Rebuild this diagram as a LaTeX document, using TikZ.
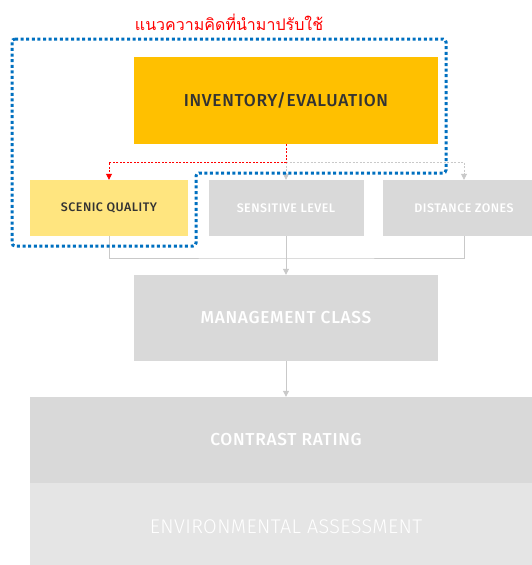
\documentclass[tikz,border=0pt]{standalone}
\usepackage{fontspec}
\setmainfont{Fira Sans}
\newfontfamily\thaifont[Script=Thai]{Loma}
\newfontfamily\boxfont[LetterSpace=4]{Fira Sans Medium}
\newfontfamily\lightfont[LetterSpace=2]{Fira Sans Light}
\usetikzlibrary{arrows.meta}
\definecolor{invcol}{HTML}{FFC000}
\definecolor{scencol}{HTML}{FFE57F}
\definecolor{graybox}{HTML}{D9D9D9}
\definecolor{lightbox}{HTML}{E5E5E5}
\definecolor{darktext}{HTML}{333333}
\definecolor{conncol}{HTML}{C9C9C9}
\definecolor{bluedot}{HTML}{0070C0}
\definecolor{titlered}{HTML}{FF0000}
\begin{document}
\begin{tikzpicture}[x=1pt,y=-1pt,
  box/.style={inner sep=0pt, font=\boxfont\fontsize{12.4}{14}\selectfont},
  bigtext/.style={font=\boxfont\fontsize{17.3}{19}\selectfont},
  darkbox/.style={box, text=darktext},
  whitebox/.style={box, fill=graybox, text=white},
  conn/.style={draw=conncol, line width=1pt},
  arr/.style={-{Triangle[length=6pt,width=6pt]}},
  reddash/.style={draw=titlered, line width=0.8pt, dash pattern=on 2pt off 1.5pt},
  graydash/.style={draw=conncol, line width=0.8pt, dash pattern=on 2pt off 1.5pt},
  outline/.style={draw=bluedot, line width=3pt, dash pattern=on 3pt off 2.6pt, rounded corners=3pt}
]
\useasboundingbox (0,0) rectangle (531,565);
\node[darkbox, fill=invcol, minimum width=304pt, minimum height=87pt, bigtext] (inv) at (286,100.5) {INVENTORY/EVALUATION};
\node[darkbox, fill=scencol, minimum width=158pt, minimum height=56pt] (scen) at (109,208) {SCENIC QUALITY};
\node[whitebox, minimum width=155pt, minimum height=56pt] (sens) at (286,208) {SENSITIVE LEVEL};
\node[whitebox, minimum width=162pt, minimum height=56pt] (dist) at (464,208) {DISTANCE ZONES};
\node[whitebox, minimum width=304pt, minimum height=86pt, bigtext] (mgmt) at (286,318) {MANAGEMENT CLASS};
\node[whitebox, minimum width=512pt, minimum height=86pt, bigtext] (contr) at (286,440) {CONTRAST RATING};
\node[box, fill=lightbox, text=white, minimum width=512pt, minimum height=88pt, font=\lightfont\fontsize{19.8}{22}\selectfont] (env) at (286,527) {ENVIRONMENTAL ASSESSMENT};
\node[text=titlered, font=\thaifont\fontsize{16}{19}\selectfont, inner sep=0pt] (title) at (229,22) {แนวความคิดที่นำมาปรับใช้};
% connectors top
\coordinate (j1) at (286,162);
\draw[graydash, arr] (j1) -- (sens.north);
\draw[graydash, arr] (j1) -| (dist.north);
\draw[reddash, arr] (inv.south) -- (j1) -| (scen.north);
% connectors bottom
\coordinate (j2) at (286,258);
\draw[conn] (scen.south) |- (j2) -| (dist.south);
\draw[conn] (sens.south) -- (j2);
\draw[conn, arr] (j2) -- (mgmt.north);
\draw[conn, arr] (mgmt.south) -- (contr.north);
% blue dotted outline
\draw[outline] (12,39) -- (446,39) -- (446,173) -- (196,173) -- (196,246) -- (12,246) -- cycle;
\end{tikzpicture}
\end{document}
